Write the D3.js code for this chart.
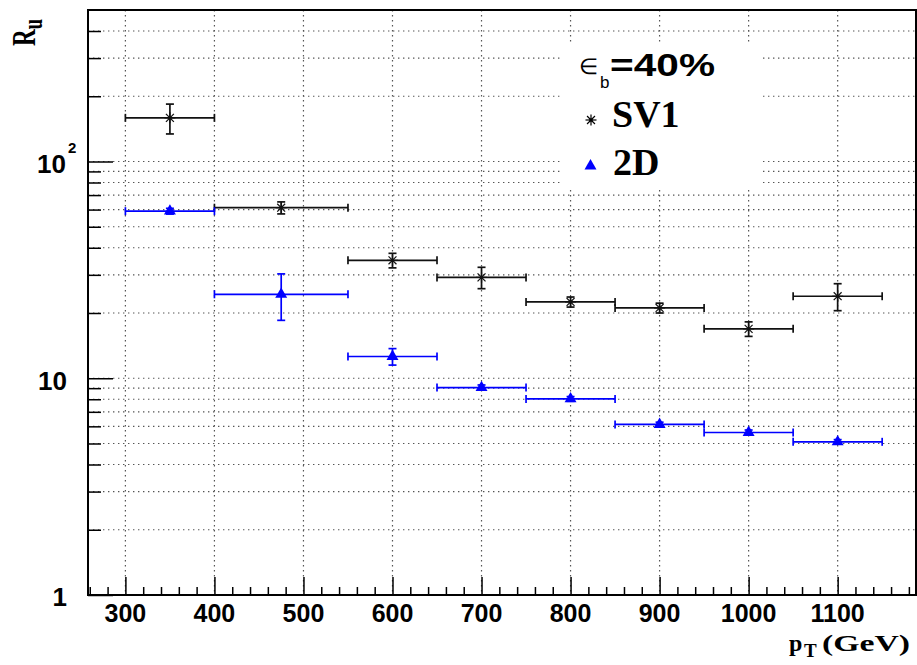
<!DOCTYPE html>
<html>
<head>
<meta charset="utf-8">
<script src="https://cdn.jsdelivr.net/npm/d3@7/dist/d3.min.js"></script>
<style>
  html, body { margin: 0; padding: 0; background: #ffffff; }
  svg { display: block; }
</style>
</head>
<body>
<script>
// ---------------- data ----------------
const binCenters = [350, 475, 600, 700, 800, 900, 1000, 1100];
const binLow     = [300, 400, 550, 650, 750, 850, 950, 1050];
const binHigh    = [400, 550, 650, 750, 850, 950, 1050, 1150];

const sv1Values  = [159, 61.2, 35.0, 29.2, 22.5, 21.1, 16.9, 23.9];
const sv1Errors  = [25, 3.9, 2.7, 3.3, 1.2, 1.1, 1.3, 3.4];

const twoDValues = [59.0, 24.4, 12.6, 9.06, 8.03, 6.12, 5.62, 5.09];
const twoDErrors = [1.8, 5.9, 1.1, 0.25, 0.2, 0.15, 0.15, 0.12];

const xMajorTicks = [300, 400, 500, 600, 700, 800, 900, 1000, 1100];
const xTickLabels = ["300", "400", "500", "600", "700", "800", "900", "1000", "1100"];
const yMajorTicks = [1, 10, 100];
const yMinorTicks = [2, 3, 4, 5, 6, 7, 8, 9, 20, 30, 40, 50, 60, 70, 80, 90, 200, 300, 400];

const legendTitle = "=40%";
const seriesNames = ["SV1", "2D"];

// ---------------- layout ----------------
const W = 917, H = 665;
const L = 88, R = 916, T = 10, B = 595;

const svg = d3.select("body").append("svg").attr("width", W).attr("height", H);

const x = d3.scaleLinear().domain([258, 1188]).range([L, R]);
const y = d3.scaleLog().domain([1, 500]).range([B, T]);

const xMinorTicks = d3.range(260, 1188, 20).filter(v => v % 100 !== 0);

const gridColor = "#555";
const gridDash = "1.4,3.6";

// grid
const grid = svg.append("g");
grid.selectAll("line.gx").data(xMajorTicks).enter().append("line")
  .attr("x1", d => x(d)).attr("x2", d => x(d)).attr("y1", T).attr("y2", B)
  .attr("stroke", gridColor).attr("stroke-width", 1.2).attr("stroke-dasharray", gridDash);
grid.selectAll("line.gy").data(yMajorTicks.concat(yMinorTicks).filter(v => v > 1)).enter().append("line")
  .attr("x1", L).attr("x2", R).attr("y1", d => y(d)).attr("y2", d => y(d))
  .attr("stroke", gridColor).attr("stroke-width", 1.2).attr("stroke-dasharray", gridDash);

// legend background
svg.append("rect").attr("x", 562).attr("y", 42).attr("width", 198).attr("height", 146).attr("fill", "#fff");

// ---------------- data marks ----------------
function drawSeries(vals, errs, color, markerFn) {
  const g = svg.append("g");
  const cap = 4;
  vals.forEach((v, i) => {
    const cx = x(binCenters[i]), cy = y(v);
    const x0 = x(binLow[i]), x1 = x(binHigh[i]);
    const yt = y(v + errs[i]), yb = y(v - errs[i]);
    const ln = (a, b, c, d) => g.append("line").attr("x1", a).attr("y1", b).attr("x2", c).attr("y2", d)
      .attr("stroke", color).attr("stroke-width", 1.7);
    ln(x0, cy, x1, cy);
    ln(x0, cy - cap, x0, cy + cap);
    ln(x1, cy - cap, x1, cy + cap);
    if (cy - yt > 1) {
      ln(cx, yt, cx, yb);
      ln(cx - cap, yt, cx + cap, yt);
      ln(cx - cap, yb, cx + cap, yb);
    }
    markerFn(g, cx, cy);
  });
}

function asterisk(g, cx, cy, r = 5.5, col = "#111") {
  const d = r * 0.72;
  [[-r, 0, r, 0], [0, -r, 0, r], [-d, -d, d, d], [-d, d, d, -d]].forEach(p => {
    g.append("line").attr("x1", cx + p[0]).attr("y1", cy + p[1]).attr("x2", cx + p[2]).attr("y2", cy + p[3])
      .attr("stroke", col).attr("stroke-width", 1.2);
  });
  g.append("circle").attr("cx", cx).attr("cy", cy).attr("r", 1.8).attr("fill", col);
}
function triangle(g, cx, cy) {
  g.append("path").attr("d", d3.symbol().type(d3.symbolTriangle).size(62)())
    .attr("transform", `translate(${cx},${cy})`).attr("fill", "#0000ff");
}

drawSeries(sv1Values, sv1Errors, "#111", asterisk);
drawSeries(twoDValues, twoDErrors, "#0000ff", triangle);

// ---------------- frame & axes ----------------
svg.append("rect").attr("x", L).attr("y", T).attr("width", R - L).attr("height", B - T)
  .attr("fill", "none").attr("stroke", "#000").attr("stroke-width", 2);

function styleAxis(g) {
  g.select(".domain").remove();
  g.selectAll(".tick line").attr("stroke", "#000").attr("stroke-width", 1.5);
  g.selectAll(".tick text").remove();
}
svg.append("g").attr("transform", `translate(0,${B})`)
  .call(d3.axisBottom(x).tickValues(xMajorTicks).tickSize(-18).tickFormat(""))
  .call(styleAxis);
svg.append("g").attr("transform", `translate(0,${B})`)
  .call(d3.axisBottom(x).tickValues(xMinorTicks).tickSize(-8).tickFormat(""))
  .call(styleAxis);
svg.append("g").attr("transform", `translate(${L},0)`)
  .call(d3.axisLeft(y).tickValues(yMajorTicks).tickSize(-25).tickFormat(""))
  .call(styleAxis);
svg.append("g").attr("transform", `translate(${L},0)`)
  .call(d3.axisLeft(y).tickValues(yMinorTicks).tickSize(-13).tickFormat(""))
  .call(styleAxis);

const sans = "'Liberation Sans', Arial, Helvetica, sans-serif";
const serif = "'Liberation Serif', 'Times New Roman', serif";

// x tick labels
svg.append("g").selectAll("text").data(xMajorTicks).enter().append("text")
  .attr("x", d => x(d)).attr("y", B + 27)
  .attr("text-anchor", "middle")
  .attr("font-family", sans).attr("font-weight", "bold").attr("font-size", 25)
  .text((d, i) => xTickLabels[i]);

// y tick labels
const yl = svg.append("g").attr("font-family", sans).attr("font-weight", "bold").attr("fill", "#000");
yl.append("text").attr("x", 67).attr("y", y(1) + 11).attr("text-anchor", "end").attr("font-size", 26).text("1");
yl.append("text").attr("x", 67).attr("y", y(10) + 12).attr("text-anchor", "end").attr("font-size", 26).text("10");
yl.append("text").attr("x", 66).attr("y", y(100) + 11).attr("text-anchor", "end").attr("font-size", 26).text("10");
yl.append("text").attr("x", 68).attr("y", y(100) - 9).attr("font-size", 15).text("2");

// axis titles
const ytg = svg.append("g").attr("transform", "translate(35,46) rotate(-90)");
const yt = ytg.append("text")
  .attr("transform", "scale(0.68,1)")
  .attr("font-family", serif).attr("font-weight", "bold").attr("font-size", 34).attr("fill", "#000");
yt.append("tspan").text("R");
yt.append("tspan").attr("font-size", 27).attr("dy", 7).text("u");

const xt = svg.append("g").attr("font-family", serif).attr("font-weight", "bold").attr("fill", "#000");
xt.append("text").attr("x", 789).attr("y", 651).attr("font-size", 24).text("p");
xt.append("text").attr("x", 804).attr("y", 657).attr("font-size", 19).text("T");
xt.append("text").attr("x", 822).attr("y", 651).attr("font-size", 24)
  .attr("textLength", 88).attr("lengthAdjust", "spacingAndGlyphs").text("(GeV)");

// legend
const lg = svg.append("g").attr("fill", "#000");
lg.append("text").attr("x", 579).attr("y", 74).attr("font-family", sans).attr("font-size", 22).text("\u2208");
lg.append("text").attr("x", 600).attr("y", 88).attr("font-family", sans).attr("font-size", 17).text("b");
lg.append("text").attr("x", 610).attr("y", 76).attr("font-family", sans).attr("font-weight", "bold")
  .attr("font-size", 31).attr("textLength", 105).attr("lengthAdjust", "spacingAndGlyphs").text(legendTitle);
asterisk(lg, 591, 120, 5.5, "#000");
lg.append("text").attr("x", 612).attr("y", 127).attr("font-family", serif).attr("font-weight", "bold")
  .attr("font-size", 38).text(seriesNames[0]);
triangle(lg, 590.5, 166);
lg.append("text").attr("x", 613).attr("y", 175).attr("font-family", serif).attr("font-weight", "bold")
  .attr("font-size", 38).text(seriesNames[1]);
</script>
</body>
</html>
